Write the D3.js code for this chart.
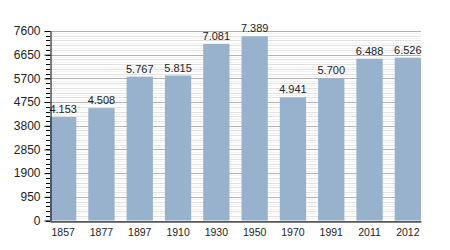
<!DOCTYPE html>
<html>
<head>
<meta charset="utf-8">
<script src="https://cdn.jsdelivr.net/npm/d3@7"></script>
<style>
  body { margin: 0; background: #fff; }
  svg { display: block; font-family: "Liberation Sans", Arial, sans-serif; }
</style>
</head>
<body>
<svg width="450" height="250"></svg>
<script>
const years = ["1857", "1877", "1897", "1910", "1930", "1950", "1970", "1991", "2011", "2012"];
const population = [4153, 4508, 5767, 5815, 7081, 7389, 4941, 5700, 6488, 6526];
const yTicks = [0, 950, 1900, 2850, 3800, 4750, 5700, 6650, 7600];

const svg = d3.select("svg");

const margin = { left: 50, right: 29, top: 31, bottom: 29.5 };
const chartWidth = 450 - margin.left - margin.right;
const chartHeight = 250 - margin.top - margin.bottom;

const chartGroup = svg
  .append("g")
  .attr("transform", `translate(${margin.left}, ${margin.top})`);

const xScaler = d3
  .scaleBand()
  .domain(years)
  .range([0, chartWidth])
  .paddingInner(0.313)
  .paddingOuter(0);
const yScaler = d3.scaleLinear().domain([0, 7600]).range([chartHeight, 0]);

// fine grid lines, then the major ones on top
const fineGrid = d3.range(0, 7601, 95);
chartGroup
  .append("g")
  .selectAll("line")
  .data(fineGrid)
  .join("line")
  .attr("x1", 0)
  .attr("x2", chartWidth)
  .attr("y1", (d) => Math.round(yScaler(d)) + 0.5)
  .attr("y2", (d) => Math.round(yScaler(d)) + 0.5)
  .attr("stroke", (d) => (d % 190 === 0 ? "#e2e2e2" : "#f3f3f3"))
  .attr("stroke-width", 1);

chartGroup
  .append("g")
  .selectAll("line")
  .data(yTicks)
  .join("line")
  .attr("x1", 0)
  .attr("x2", chartWidth)
  .attr("y1", (d) => Math.round(yScaler(d)) + 0.5)
  .attr("y2", (d) => Math.round(yScaler(d)) + 0.5)
  .attr("stroke", "#b2b2b2")
  .attr("stroke-width", 1);

// bars
chartGroup
  .append("g")
  .selectAll("rect")
  .data(population)
  .join("rect")
  .attr("x", (d, i) => xScaler(years[i]))
  .attr("y", (d) => yScaler(d))
  .attr("width", xScaler.bandwidth())
  .attr("height", (d) => chartHeight - yScaler(d))
  .attr("fill", "#98b2cd");

// value labels, dot as thousands separator
const fmt = d3.formatLocale({ decimal: ",", thousands: ".", grouping: [3], currency: ["", ""] }).format(",");
chartGroup
  .append("g")
  .selectAll("text")
  .data(population)
  .join("text")
  .attr("x", (d, i) => xScaler(years[i]) + xScaler.bandwidth() / 2)
  .attr("y", (d) => yScaler(d) - 4)
  .attr("text-anchor", "middle")
  .attr("font-size", 11)
  .attr("fill", "#222")
  .text((d) => fmt(d));

// minor ticks on the y axis
chartGroup
  .append("g")
  .selectAll("line")
  .data(d3.range(0, 7601, 190))
  .join("line")
  .attr("x1", -4)
  .attr("x2", 0)
  .attr("y1", (d) => Math.round(yScaler(d)) + 0.5)
  .attr("y2", (d) => Math.round(yScaler(d)) + 0.5)
  .attr("stroke", "#000");

const yAxisGroup = chartGroup.append("g").attr("transform", "translate(0.5, 0)");
yAxisGroup.call(
  d3.axisLeft(yScaler).tickValues(yTicks).tickFormat(d3.format("d")).tickSize(6).tickPadding(4).tickSizeOuter(0)
);
yAxisGroup.attr("font-family", null).attr("font-size", 12);
yAxisGroup.selectAll("text").attr("fill", "#222");
yAxisGroup.select(".domain").attr("stroke", "#000");

const xAxisGroup = chartGroup
  .append("g")
  .attr("transform", `translate(0, ${Math.round(chartHeight) + 0.5})`);
xAxisGroup.call(d3.axisBottom(xScaler).tickSize(0).tickPadding(7));
xAxisGroup.attr("font-family", null).attr("font-size", 10.5);
xAxisGroup.selectAll("text").attr("fill", "#222");
xAxisGroup.select(".domain").attr("stroke", "#000").attr("stroke-width", 1.2);
</script>
</body>
</html>
